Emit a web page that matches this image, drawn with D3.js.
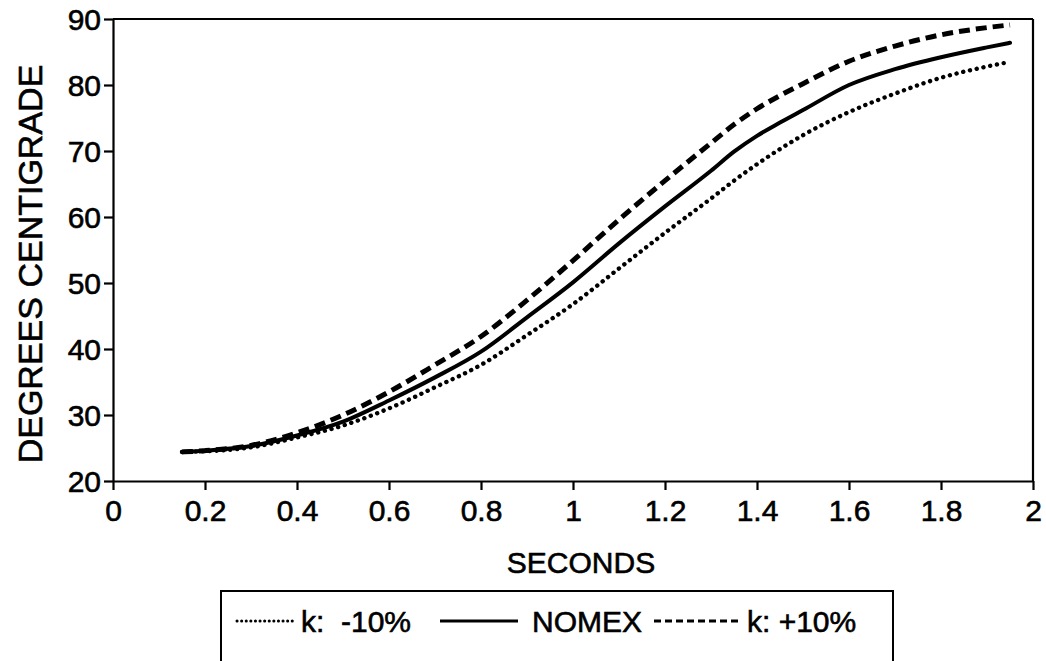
<!DOCTYPE html>
<html>
<head>
<meta charset="utf-8">
<script src="https://cdn.jsdelivr.net/npm/d3@7"></script>
<style>
  body { margin: 0; background: #fff; }
  text { font-family: "Liberation Sans", Arial, Helvetica, sans-serif; fill: #000; white-space: pre; }
</style>
</head>
<body>
<svg id="chart" width="1046" height="661"></svg>
<script>
// Time (s) and surface temperature (°C) for the nominal fabric and ±10% conductivity
const seconds   = [0.15, 0.2, 0.3, 0.4, 0.5, 0.6, 0.7, 0.8, 0.9, 1.0, 1.1, 1.2, 1.3, 1.35, 1.4, 1.45, 1.5, 1.6, 1.7, 1.8, 1.9, 1.95];
const kMinus10  = [24.4, 24.5, 25.1, 26.6, 28.4, 31.0, 34.2, 37.6, 42.1, 46.8, 52.2, 57.6, 62.8, 65.5, 68.0, 70.3, 72.4, 75.9, 78.7, 81.1, 82.8, 83.5];
const nomex     = [24.4, 24.6, 25.3, 26.9, 29.0, 32.2, 35.7, 39.6, 44.8, 50.1, 56.0, 61.6, 67.0, 69.9, 72.3, 74.3, 76.2, 80.0, 82.4, 84.2, 85.7, 86.4];
const kPlus10   = [24.4, 24.6, 25.4, 27.3, 30.0, 33.5, 37.6, 41.9, 47.4, 53.4, 59.6, 65.5, 71.2, 74.0, 76.4, 78.4, 80.2, 83.6, 85.9, 87.6, 88.7, 89.1];
const xTicks    = [0, 0.2, 0.4, 0.6, 0.8, 1, 1.2, 1.4, 1.6, 1.8, 2];
const yTicks    = [20, 30, 40, 50, 60, 70, 80, 90];
const seriesLabels = ["k:  -10%", "NOMEX", "k: +10%"];

const svg = d3.select("#chart");
const m = { left: 113, top: 19, right: 1033, bottom: 481 };

const x = d3.scaleLinear().domain([0, 2]).range([m.left, m.right]);
const y = d3.scaleLinear().domain([20, 90]).range([m.bottom, m.top]);

// Slightly heavy text, like the plotter lettering
const heavy = sel => sel.attr("stroke", "#000").attr("stroke-width", 0.6).attr("fill", "#000");

// Frame: top and right edges
svg.append("line").attr("x1", m.left).attr("x2", m.right).attr("y1", m.top).attr("y2", m.top)
  .attr("stroke", "#000").attr("stroke-width", 2.2);
svg.append("line").attr("x1", m.right).attr("x2", m.right).attr("y1", m.top).attr("y2", m.bottom)
  .attr("stroke", "#000").attr("stroke-width", 2.2);

// Axes
const xAxis = svg.append("g").attr("transform", `translate(0,${m.bottom})`)
  .call(d3.axisBottom(x).tickValues(xTicks).tickFormat(d => String(d)).tickSizeInner(9).tickSizeOuter(0).tickPadding(10));
const yAxis = svg.append("g").attr("transform", `translate(${m.left},0)`)
  .call(d3.axisLeft(y).tickValues(yTicks).tickFormat(d => String(d)).tickSizeInner(9).tickSizeOuter(0).tickPadding(3));

[xAxis, yAxis].forEach(g => {
  g.select(".domain").attr("stroke", "#000").attr("stroke-width", 2.2);
  g.selectAll(".tick line").attr("stroke", "#000").attr("stroke-width", 2.2);
  g.selectAll(".tick text").attr("font-size", 30)
    .style("font-family", '"Liberation Sans", Arial, sans-serif')
    .call(heavy);
});
yAxis.selectAll(".tick text").attr("dy", "0.36em");

// Axis titles
svg.append("text").attr("x", 581).attr("y", 573).attr("text-anchor", "middle")
  .attr("font-size", 30).text("SECONDS").call(heavy);
svg.append("text").attr("transform", `translate(42,264) rotate(-90)`)
  .attr("text-anchor", "middle").attr("font-size", 34).text("DEGREES CENTIGRADE").call(heavy);

// Curves
const styles = [
  { values: kMinus10, width: 4.4, dash: "0.1,6.8", cap: "round" },
  { values: nomex,    width: 4,   dash: null,      cap: "round" },
  { values: kPlus10,  width: 5,   dash: "11,6",    cap: "butt" }
];
const line = d3.line().x(d => x(d[0])).y(d => y(d[1])).curve(d3.curveMonotoneX);

styles.forEach(s => {
  svg.append("path")
    .datum(seconds.map((t, i) => [t, s.values[i]]))
    .attr("d", line)
    .attr("fill", "none")
    .attr("stroke", "#000")
    .attr("stroke-width", s.width)
    .attr("stroke-linecap", s.cap)
    .attr("stroke-dasharray", s.dash);
});

// Legend
const legend = svg.append("g");
legend.append("path").attr("d", "M221,665 V591 H893 V665")
  .attr("fill", "none").attr("stroke", "#000").attr("stroke-width", 2);

const legendItems = [
  { x1: 237, x2: 294, tx: 301, width: 3,   dash: "0.1,4.5", cap: "round" },
  { x1: 440, x2: 518, tx: 532, width: 3.2, dash: null,      cap: "butt" },
  { x1: 654, x2: 740, tx: 747, width: 3,   dash: "7,4",     cap: "butt" }
];
legendItems.forEach((it, i) => {
  legend.append("line").attr("x1", it.x1).attr("x2", it.x2).attr("y1", 621).attr("y2", 621)
    .attr("stroke", "#000").attr("stroke-width", it.width)
    .attr("stroke-linecap", it.cap).attr("stroke-dasharray", it.dash);
  legend.append("text").attr("x", it.tx).attr("y", 632).attr("font-size", 30)
    .text(seriesLabels[i]).call(heavy);
});
</script>
</body>
</html>
